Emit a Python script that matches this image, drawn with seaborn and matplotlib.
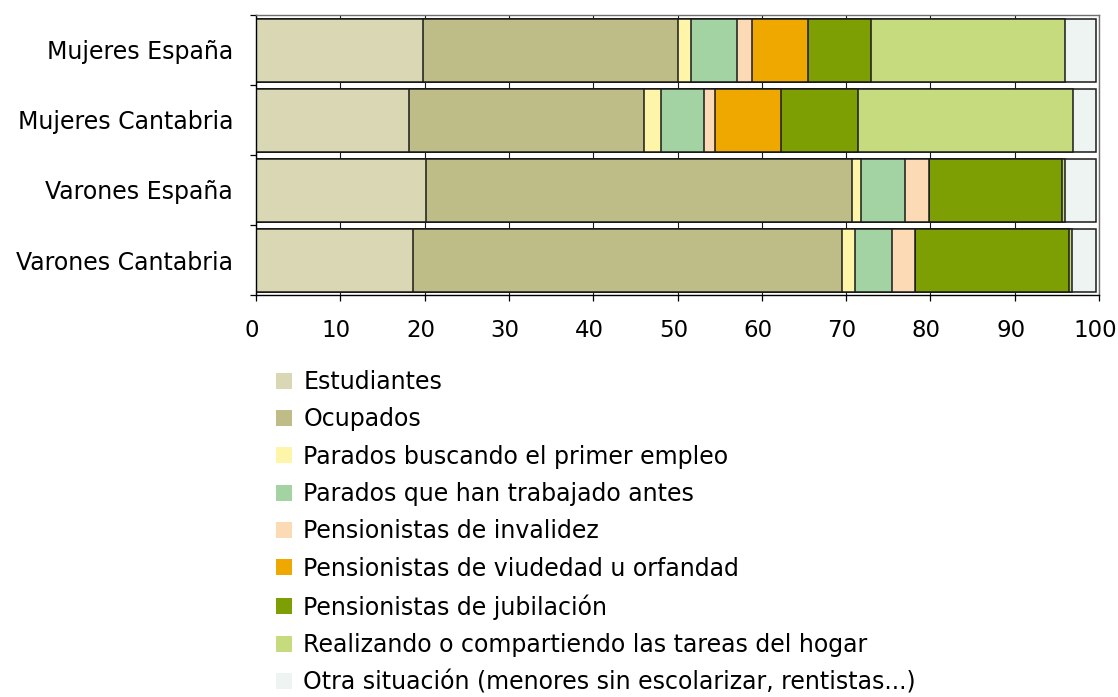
import numpy as np
import pandas as pd
import matplotlib
matplotlib.use("Agg")
import matplotlib.pyplot as plt
from matplotlib.patches import Patch
from matplotlib.ticker import FixedLocator
from matplotlib.transforms import ScaledTranslation
import seaborn as sns

groups = ["Mujeres España", "Mujeres Cantabria", "Varones España", "Varones Cantabria"]
series_names = [
    "Estudiantes",
    "Ocupados",
    "Parados buscando el primer empleo",
    "Parados que han trabajado antes",
    "Pensionistas de invalidez",
    "Pensionistas de viudedad u orfandad",
    "Pensionistas de jubilación",
    "Realizando o compartiendo las tareas del hogar",
    "Otra situación (menores sin escolarizar, rentistas...)",
]
estudiantes = [19.8, 18.2, 20.2, 18.6]
ocupados = [30.2, 27.8, 50.5, 50.9]
parados_primer = [1.6, 2.0, 1.1, 1.6]
parados_antes = [5.5, 5.2, 5.2, 4.3]
invalidez = [1.7, 1.2, 2.8, 2.8]
viudedad = [6.7, 7.9, 0.0, 0.0]
jubilacion = [7.5, 9.1, 15.8, 18.3]
hogar = [23.0, 25.5, 0.4, 0.3]
otra = [3.6, 2.7, 3.6, 2.8]
x_ticks = [0, 10, 20, 30, 40, 50, 60, 70, 80, 90, 100]

colors = ["#DAD8B4", "#BFBD87", "#FFF5A8", "#A3D3A3", "#FDDAB6",
          "#EEA800", "#7E9F04", "#C6DA7E", "#EEF4F2"]

series = [estudiantes, ocupados, parados_primer, parados_antes, invalidez,
          viudedad, jubilacion, hogar, otra]

sns.set_theme(style="ticks")
plt.rcParams["font.family"] = ["DejaVu Sans"]
plt.rcParams["text.color"] = "black"
plt.rcParams["axes.labelcolor"] = "black"

W, H = 1118, 697
fig = plt.figure(figsize=(W / 100, H / 100), dpi=100)
ax = fig.add_axes([256 / W, 1 - 295 / H, (1099 - 256) / W, (295 - 15) / H])

vals = np.array(series)
cum = np.cumsum(vals, axis=0)

# draw cumulative layers from last to first so each segment is visible
for i in range(len(series) - 1, -1, -1):
    df = pd.DataFrame({"grupo": groups, "valor": cum[i]})
    sns.barplot(data=df, x="valor", y="grupo", order=groups, orient="h",
                color=colors[i], saturation=1, errorbar=None, width=0.9,
                edgecolor="#1a1a1a", linewidth=1.1, ax=ax, zorder=2)

ax.set_xlim(0, 100)
ax.set_ylim(3.5, -0.5)
ax.set_xlabel("")
ax.set_ylabel("")
ax.xaxis.set_major_locator(FixedLocator(x_ticks))
ax.set_xticklabels([str(t) for t in x_ticks])
ax.xaxis.grid(True, color="#1a1a1a", linewidth=0.8, zorder=0)
ax.set_axisbelow(True)
ax.yaxis.grid(False)

ax.tick_params(axis="x", direction="out", length=4.5, width=0.9, color="black",
               labelsize=16.5, pad=12.5, labelcolor="black")
ax.tick_params(axis="y", which="major", length=0, labelsize=17, pad=16.5,
               labelcolor="black")
ax.yaxis.set_minor_locator(FixedLocator([-0.5, 0.5, 1.5, 2.5, 3.5]))
ax.tick_params(axis="y", which="minor", direction="out", length=4.5, width=0.9,
               color="black")

shift = ScaledTranslation(-4 / 100, 0, fig.dpi_scale_trans)
for lab in ax.get_xticklabels():
    lab.set_transform(lab.get_transform() + shift)

for side in ["left", "bottom"]:
    ax.spines[side].set_color("black")
    ax.spines[side].set_linewidth(1.0)
for side in ["top", "right"]:
    ax.spines[side].set_visible(True)
    ax.spines[side].set_color("#707070")
    ax.spines[side].set_linewidth(1.0)

handles = [Patch(facecolor=c, edgecolor="none", label=n) for c, n in zip(colors, series_names)]
fig.legend(handles=handles, loc="upper left",
           bbox_to_anchor=(276 / W, 1 - 370 / H), bbox_transform=fig.transFigure,
           frameon=False, fontsize=17, handlelength=0.68, handleheight=0.66,
           handletextpad=0.47, labelspacing=0.565, borderpad=0, borderaxespad=0,
           labelcolor="black")

fig.savefig("out.png", dpi=100)
